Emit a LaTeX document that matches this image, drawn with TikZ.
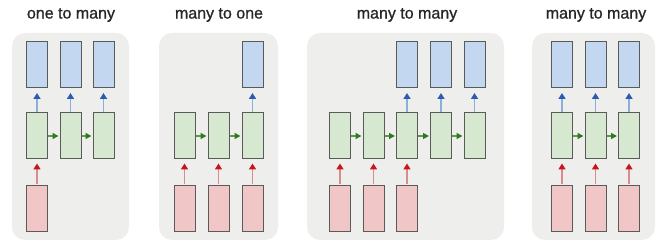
\documentclass[tikz,border=0pt]{standalone}
\usepackage{fontspec}
\setmainfont{Liberation Sans}
\newfontfamily\titlefont[FakeBold=0.9]{Liberation Sans}
\usetikzlibrary{arrows.meta}
\definecolor{panelbg}{HTML}{EEEFED}
\definecolor{bluefill}{HTML}{C4D7F1}
\definecolor{greenfill}{HTML}{D6E9D0}
\definecolor{redfill}{HTML}{F0C6C6}
\definecolor{boxline}{HTML}{5A5A5A}
\definecolor{bluearr}{HTML}{8CAFD9}
\definecolor{bluetip}{HTML}{2A5BB5}
\definecolor{redarr}{HTML}{D98C8C}
\definecolor{redtip}{HTML}{C8141E}
\definecolor{greenarr}{HTML}{5C9A4A}
\definecolor{greentip}{HTML}{2F7A1E}
\definecolor{titlecol}{HTML}{262626}
\tikzset{
  panel/.style={fill=panelbg, draw=none, rounded corners=13pt},
  cell/.style={draw=boxline, line width=1pt, minimum width=21pt, minimum height=46pt, inner sep=0pt},
  outbox/.style={cell, fill=bluefill},
  hidbox/.style={cell, fill=greenfill},
  inbox/.style={cell, fill=redfill},
  uparrow/.style={draw=bluearr, line width=1.8pt, -{Triangle[length=6pt,width=7pt,color=bluetip]}, shorten >=5pt},
  inarrow/.style={draw=redarr, line width=1.8pt, -{Triangle[length=6pt,width=7pt,color=redtip]}, shorten >=4pt, shorten <=1pt},
  recarrow/.style={draw=greenarr, line width=1.6pt, -{Triangle[length=6pt,width=6pt,color=greentip]}, shorten >=1pt},
  title/.style={font=\titlefont\fontsize{16}{18}\selectfont, text=titlecol, inner sep=0pt}
}
\begin{document}
\begin{tikzpicture}[x=1pt,y=-1pt]
\useasboundingbox (0,0) rectangle (666,245);
% panels
\fill[panel] (12,33) rectangle (129,240);
\fill[panel] (159,33) rectangle (278,240);
\fill[panel] (307,33) rectangle (504,240);
\fill[panel] (532,33) rectangle (655,240);
% titles
\node[title] (t1) at (71,15) {one to many};
\node[title] (t2) at (219,15) {many to one};
\node[title] (t3) at (407,15) {many to many};
\node[title] (t4) at (596,15) {many to many};
% panel 1: one to many
\foreach \x [count=\i] in {37,70.5,103.5} {
  \node[hidbox] (a h\i) at (\x,136) {};
  \node[outbox] (a o\i) at (\x,64.5) {};
  \draw[uparrow] (a h\i) -- (a o\i);
}
\node[inbox] (a i1) at (37,209) {};
\draw[inarrow] (a i1) -- (a h1);
\draw[recarrow] (a h1) -- (a h2);
\draw[recarrow] (a h2) -- (a h3);
% panel 2: many to one
\foreach \x [count=\i] in {184.5,218.5,252.5} {
  \node[hidbox] (b h\i) at (\x,136) {};
  \node[inbox] (b i\i) at (\x,209) {};
  \draw[inarrow] (b i\i) -- (b h\i);
}
\node[outbox] (b o3) at (252.5,64.5) {};
\draw[uparrow] (b h3) -- (b o3);
\draw[recarrow] (b h1) -- (b h2);
\draw[recarrow] (b h2) -- (b h3);
% panel 3: many to many (delayed)
\foreach \x [count=\i] in {340,373.5,407,441,474.5} {
  \node[hidbox] (c h\i) at (\x,136) {};
}
\foreach \x [count=\i] in {340,373.5,407} {
  \node[inbox] (c i\i) at (\x,209) {};
  \draw[inarrow] (c i\i) -- (c h\i);
}
\foreach \x/\j in {407/3,441/4,474.5/5} {
  \node[outbox] (c o\j) at (\x,64.5) {};
  \draw[uparrow] (c h\j) -- (c o\j);
}
\draw[recarrow] (c h1) -- (c h2);
\draw[recarrow] (c h2) -- (c h3);
\draw[recarrow] (c h3) -- (c h4);
\draw[recarrow] (c h4) -- (c h5);
% panel 4: many to many (synced)
\foreach \x [count=\i] in {562,595.5,629} {
  \node[hidbox] (d h\i) at (\x,136) {};
  \node[outbox] (d o\i) at (\x,64.5) {};
  \node[inbox] (d i\i) at (\x,209) {};
  \draw[uparrow] (d h\i) -- (d o\i);
  \draw[inarrow] (d i\i) -- (d h\i);
}
\draw[recarrow] (d h1) -- (d h2);
\draw[recarrow] (d h2) -- (d h3);
\end{tikzpicture}
\end{document}
